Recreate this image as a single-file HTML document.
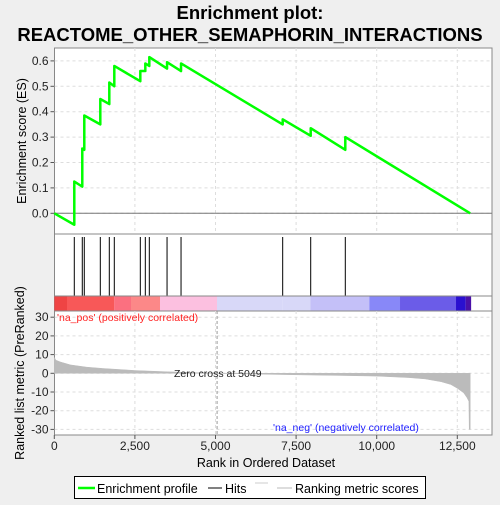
<!DOCTYPE html>
<html><head><style>
body{margin:0;background:#efefef;}
svg text{font-family:"Liberation Sans",sans-serif;}
</style></head><body>
<svg width="500" height="500" xmlns="http://www.w3.org/2000/svg">
<rect width="500" height="500" fill="#efefef"/>
<text x="250" y="19" font-size="18.5" font-weight="bold" text-anchor="middle">Enrichment plot:</text>
<text x="250" y="41" font-size="18.5" font-weight="bold" text-anchor="middle">REACTOME_OTHER_SEMAPHORIN_INTERACTIONS</text>
<g id="es-panel"></g>
<g id="hits-panel"></g>
<g id="bar-panel"></g>
<g id="metric-panel"></g>
<g>
<rect x="74.5" y="476.5" width="351" height="22" fill="#fff" stroke="#000"/>
<line x1="78" y1="488" x2="95" y2="488" stroke="#00ff00" stroke-width="2.5"/>
<text x="97" y="493" font-size="12.5">Enrichment profile</text>
<line x1="208" y1="488" x2="222" y2="488" stroke="#000"/>
<text x="225" y="493" font-size="12.5">Hits</text>
<line x1="255" y1="483" x2="268" y2="483" stroke="#ccc"/>
<line x1="277" y1="488" x2="292" y2="488" stroke="#bbb"/>
<text x="295" y="493" font-size="12.5">Ranking metric scores</text>
</g>
</svg>
<script>
const hitRanks=[620,868,930,1427,1706,1861,2668,2823,2947,3497,3931,7084,7953,9026];
const esBefore=[-0.045,0.105,0.25,0.35,0.43,0.50,0.52,0.56,0.58,0.57,0.56,0.35,0.305,0.25];
const esAfter=[0.125,0.255,0.385,0.45,0.515,0.58,0.56,0.59,0.615,0.595,0.59,0.37,0.335,0.30];
const totalRanks=12900;
const esTicks=[0,0.1,0.2,0.3,0.4,0.5,0.6];
const metricRanks=[0,50,200,500,1000,1500,2500,3500,5049,6500,7500,9000,10000,11000,11500,12000,12300,12500,12700,12800,12860,12870,12900];
const metricVals=[8.5,7,6,4.5,3.3,2.6,1.5,0.8,0,-0.5,-0.8,-1.2,-1.5,-2.3,-3,-4.5,-6,-8,-10.5,-13,-15,-30,-30];
const metricTicks=[30,20,10,0,-10,-20,-30];
const xTicks=[0,2500,5000,7500,10000,12500];
const xTickLabels=["0","2,500","5,000","7,500","10,000","12,500"];
const barEdges=[1,394,1862,2379,3279,5047,7083,7942,9771,10723,12460,12760,12929];
const barColors=["#ef4444","#f85858","#fb7080","#fc8888","#fcc0e0","#d8d8f8","#d8d8f8","#c4c0f8","#8888f8","#6b5ce8","#2a10d0","#4a10a8"];
const zeroCross=5049;

const NS="http://www.w3.org/2000/svg";
const L=54.5,R=492;
const xs=r=>54.3+r*0.03224;
const yES=v=>213.3-v*254;
const yM=v=>373.3-v*1.87;
function mk(tag,attrs,parent){const e=document.createElementNS(NS,tag);for(const k in attrs)e.setAttribute(k,attrs[k]);parent.appendChild(e);return e;}

const es=document.getElementById('es-panel');
mk('rect',{x:L,y:48,width:R-L,height:186,fill:'#fff',stroke:'#888'},es);
xTicks.forEach(t=>{if(t>0){const g=mk('line',{x1:xs(t),x2:xs(t),y1:48,y2:234,stroke:'#ddd','stroke-dasharray':'3,3'},es);}});
esTicks.forEach(t=>{
 const g=mk('line',{x1:L,x2:R,y1:yES(t),y2:yES(t),stroke:'#ddd','stroke-dasharray':'3,3'},es);
 
 mk('line',{x1:L-4,x2:L,y1:yES(t),y2:yES(t),stroke:'#555'},es);
 const tx=mk('text',{x:L-6,y:yES(t)+4,'font-size':'12','text-anchor':'end',fill:'#222'},es);tx.textContent=t.toFixed(1);
 
});
mk('line',{x1:L,x2:R,y1:yES(0),y2:yES(0),stroke:'#777'},es);
let d=`M${xs(0)},${yES(0)}`;
hitRanks.forEach((r,i)=>{d+=` L${xs(r)},${yES(esBefore[i])} L${xs(r)},${yES(esAfter[i])}`;});
d+=` L${xs(totalRanks)},${yES(0)}`;
const p=mk('path',{d:d,fill:'none',stroke:'#00ff00','stroke-width':'2.5','stroke-linejoin':'round'},es);

const yl=mk('text',{x:26,y:141,'font-size':'12.5','text-anchor':'middle',transform:'rotate(-90 26 141)'},es);yl.textContent='Enrichment score (ES)';


const hp=document.getElementById('hits-panel');
mk('rect',{x:L,y:234,width:R-L,height:62,fill:'#fff',stroke:'#888'},hp);
hitRanks.forEach(r=>{const l=mk('line',{x1:xs(r),x2:xs(r),y1:237,y2:296,stroke:'#000'},hp);
});

const bp=document.getElementById('bar-panel');
mk('rect',{x:L,y:296,width:R-L,height:15,fill:'#fff',stroke:'#888'},bp);
barColors.forEach((c,i)=>{const x0=xs(barEdges[i]),x1=xs(barEdges[i+1]);
const r=mk('rect',{x:x0,y:296.5,width:x1-x0,height:14,fill:c},bp);
});

const mp=document.getElementById('metric-panel');
mk('rect',{x:L,y:311,width:R-L,height:124,fill:'#fff',stroke:'#888'},mp);
xTicks.forEach(t=>{if(t>0)mk('line',{x1:xs(t),x2:xs(t),y1:311,y2:435,stroke:'#ddd','stroke-dasharray':'3,3'},mp);});
metricTicks.forEach(t=>{
 mk('line',{x1:L,x2:R,y1:yM(t),y2:yM(t),stroke:'#ddd','stroke-dasharray':'3,3'},mp);
 mk('line',{x1:L-4,x2:L,y1:yM(t),y2:yM(t),stroke:'#555'},mp);
 const tx=mk('text',{x:L-6,y:yM(t)+4,'font-size':'12','text-anchor':'end',fill:'#222'},mp);tx.textContent=t;
 
});
let md=`M${xs(0)},${yM(0)}`;
metricRanks.forEach((r,i)=>{md+=` L${xs(r)},${yM(metricVals[i])}`;});
md+=` L${xs(totalRanks)},${yM(0)} Z`;
const ar=mk('path',{d:md,fill:'#bbb',stroke:'#bbb','stroke-width':'0.5'},mp);

mk('line',{x1:xs(zeroCross),x2:xs(zeroCross),y1:311,y2:435,stroke:'#999','stroke-dasharray':'3,2'},mp);
const zc=mk('text',{x:174,y:377,'font-size':'10.5',fill:'#222'},mp);zc.textContent='Zero cross at 5049';

const pl=mk('text',{x:57,y:321,'font-size':'10.5',fill:'#ff2020'},mp);pl.textContent="'na_pos' (positively correlated)";

const nl=mk('text',{x:273,y:431,'font-size':'10.5',fill:'#2020ff'},mp);nl.textContent="'na_neg' (negatively correlated)";

xTicks.forEach((t,i)=>{mk('line',{x1:xs(t),x2:xs(t),y1:435,y2:439,stroke:'#555'},mp);
 const tx=mk('text',{x:xs(t),y:450,'font-size':'12','text-anchor':'middle',fill:'#222'},mp);tx.textContent=xTickLabels[i];
 });
const xl=mk('text',{x:266,y:467,'font-size':'12.5','text-anchor':'middle'},mp);xl.textContent='Rank in Ordered Dataset';

const ml=mk('text',{x:24,y:373,'font-size':'12.5','text-anchor':'middle',transform:'rotate(-90 24 373)'},mp);ml.textContent='Ranked list metric (PreRanked)';

</script>
</body></html>
